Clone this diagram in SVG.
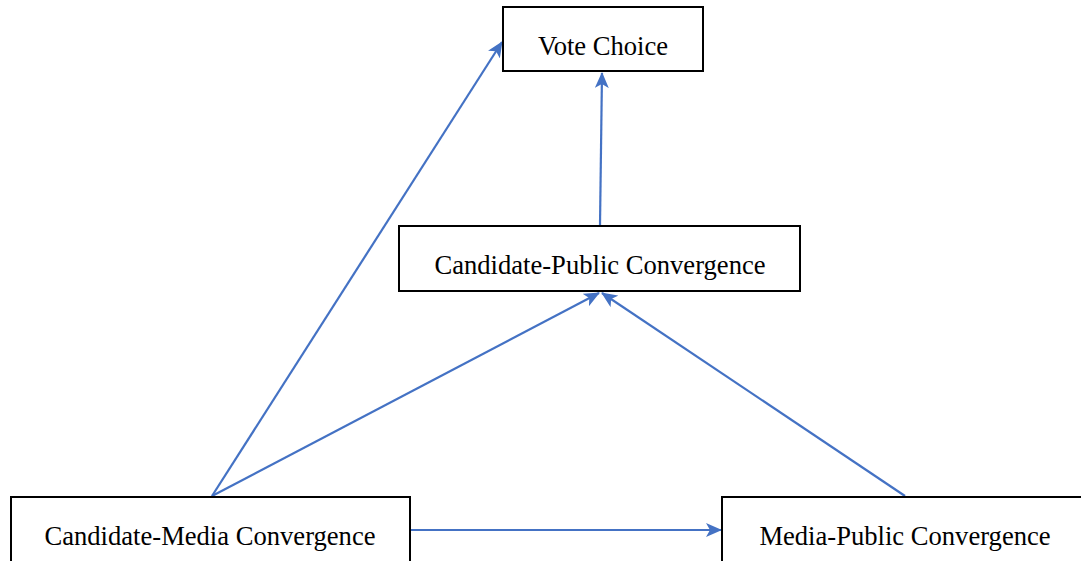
<svg xmlns="http://www.w3.org/2000/svg" width="1081" height="561" viewBox="0 0 1081 561">
<style>
.box{fill:#fff;stroke:#000;stroke-width:2}
.lbl{font-family:"Liberation Serif","Times New Roman",serif;font-size:26.6px;fill:#000;text-anchor:middle}
.conn{stroke:#4472C4;stroke-width:2.2;fill:none;marker-end:url(#ah)}
</style>
<defs>
<marker id="ah" viewBox="0 0 16 14" refX="15" refY="7" markerWidth="16" markerHeight="14" markerUnits="userSpaceOnUse" orient="auto">
<path d="M0,0 L16,7 L0,14 L4,7 Z" fill="#4472C4"/>
</marker>
</defs>
<rect width="1081" height="561" fill="#fff"/>
<g id="connectors">
<line class="conn" x1="212" y1="496" x2="502" y2="42"/>
<line class="conn" x1="600" y1="225" x2="602" y2="73"/>
<line class="conn" x1="212" y1="496" x2="599" y2="293"/>
<line class="conn" x1="905" y1="496" x2="602" y2="293"/>
<line class="conn" x1="411" y1="530" x2="721" y2="530"/>
</g>
<g id="vote-choice">
<rect class="box" x="503" y="7" width="200" height="64"/>
<text class="lbl" x="603" y="55">Vote Choice</text>
</g>
<g id="candidate-public">
<rect class="box" x="399" y="226" width="401" height="65"/>
<text class="lbl" x="600" y="274">Candidate-Public Convergence</text>
</g>
<g id="candidate-media">
<rect class="box" x="11" y="497" width="399" height="80"/>
<text class="lbl" x="210" y="545">Candidate-Media Convergence</text>
</g>
<g id="media-public">
<rect class="box" x="722" y="497" width="370" height="80"/>
<text class="lbl" x="905" y="545">Media-Public Convergence</text>
</g>
</svg>
